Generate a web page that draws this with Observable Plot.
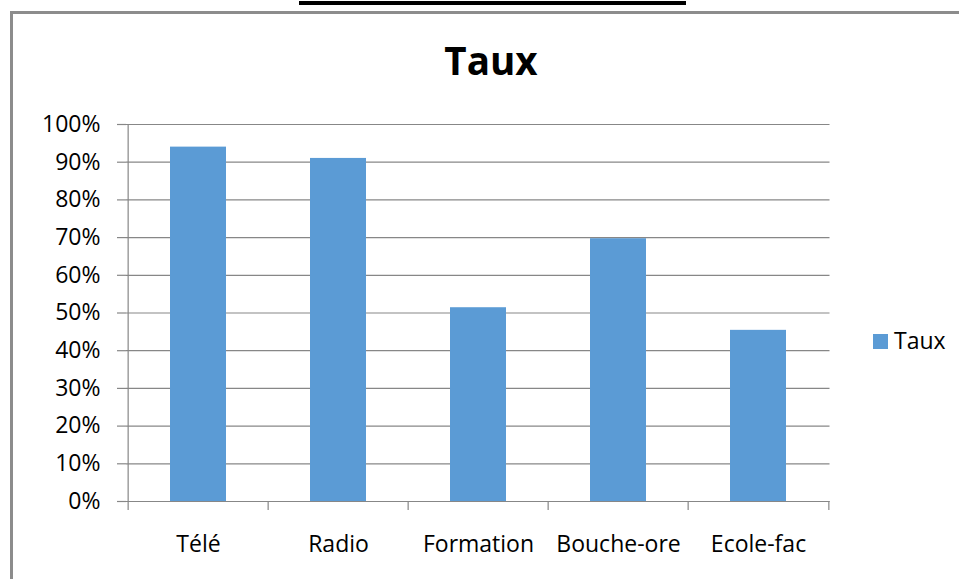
<!DOCTYPE html>
<html>
<head>
<meta charset="utf-8">
<script src="https://cdn.jsdelivr.net/npm/d3@7"></script>
<script src="https://cdn.jsdelivr.net/npm/@observablehq/plot@0.6"></script>
<style>
  html, body { margin: 0; padding: 0; background: #fff; }
  #page { position: relative; width: 959px; height: 579px; overflow: hidden; font-family: "Open Sans", sans-serif; color: #000; }
  #heading-rule { position: absolute; left: 299px; top: 1px; width: 387px; height: 4px; background: #000; }
  #chart-frame { position: absolute; left: 10px; top: 11px; width: 1200px; height: 900px; border-left: 3px solid #8c8c8c; border-top: 3px solid #8c8c8c; }
  #chart { position: absolute; left: 0; top: 0; }
  #chart-title { position: absolute; left: 491px; top: 40.7px; transform: translateX(-50%); font-size: 38.6px; font-weight: 700; line-height: 1; white-space: nowrap; }
  #legend { position: absolute; left: 873px; top: 328.6px; font-size: 23px; line-height: 1; white-space: nowrap; }
  #legend .swatch { position: absolute; left: 0; top: 5.4px; width: 15px; height: 15px; background: #5b9bd5; }
  #legend .label { position: absolute; left: 21px; top: 0; }
</style>
</head>
<body>
<div id="page">
  <div id="heading-rule"></div>
  <div id="chart-frame"></div>
  <div id="chart"></div>
  <div id="chart-title">Taux</div>
  <div id="legend"><span class="swatch"></span><span class="label">Taux</span></div>
</div>
<script>
// Sources d'information et part des répondants
const categories = ["Télé", "Radio", "Formation", "Bouche-ore", "Ecole-fac"];
const taux = [0.94, 0.91, 0.514, 0.697, 0.454];
const yTicks = [0, 0.1, 0.2, 0.3, 0.4, 0.5, 0.6, 0.7, 0.8, 0.9, 1];

const data = categories.map((c, i) => ({categorie: c, taux: taux[i]}));

const width = 959, height = 579;
const marginLeft = 126, marginRight = 129.5, marginTop = 124, marginBottom = 78;
const step = (width - marginLeft - marginRight) / categories.length;
const gray = "#878787";

const chart = Plot.plot({
  width, height, marginLeft, marginRight, marginTop, marginBottom,
  style: {fontFamily: "'Open Sans', sans-serif", fontSize: "23px", color: "#000", background: "transparent"},
  x: {domain: categories, paddingInner: 0.6, paddingOuter: 0.3, label: null},
  y: {domain: [0, 1], label: null},
  marks: [
    Plot.gridY(yTicks, {stroke: gray, strokeOpacity: 1, strokeWidth: 1.2}),
    Plot.axisY(yTicks, {tickSize: 9, tickPadding: 17, stroke: gray, strokeWidth: 1.2, fill: "#000", tickFormat: d3.format(".0%"), label: null}),
    Plot.barY(data, {x: "categorie", y: "taux", fill: "#5b9bd5"}),
    // category boundary ticks below the baseline
    Plot.axisX(categories, {tickSize: 9, dx: -step / 2, stroke: gray, strokeWidth: 1.2, text: null, label: null}),
    Plot.axisX(categories.slice(-1), {tickSize: 9, dx: step / 2, stroke: gray, strokeWidth: 1.2, text: null, label: null}),
    Plot.axisX(categories, {tickSize: 0, tickPadding: 34, fill: "#000", label: null}),
    Plot.ruleX(categories.slice(0, 1), {y1: 0, y2: 1, dx: -step / 2, stroke: gray, strokeWidth: 1.2}),
    Plot.ruleY([0], {stroke: gray, strokeWidth: 1.2})
  ]
});

document.getElementById("chart").append(chart);
</script>
</body>
</html>
